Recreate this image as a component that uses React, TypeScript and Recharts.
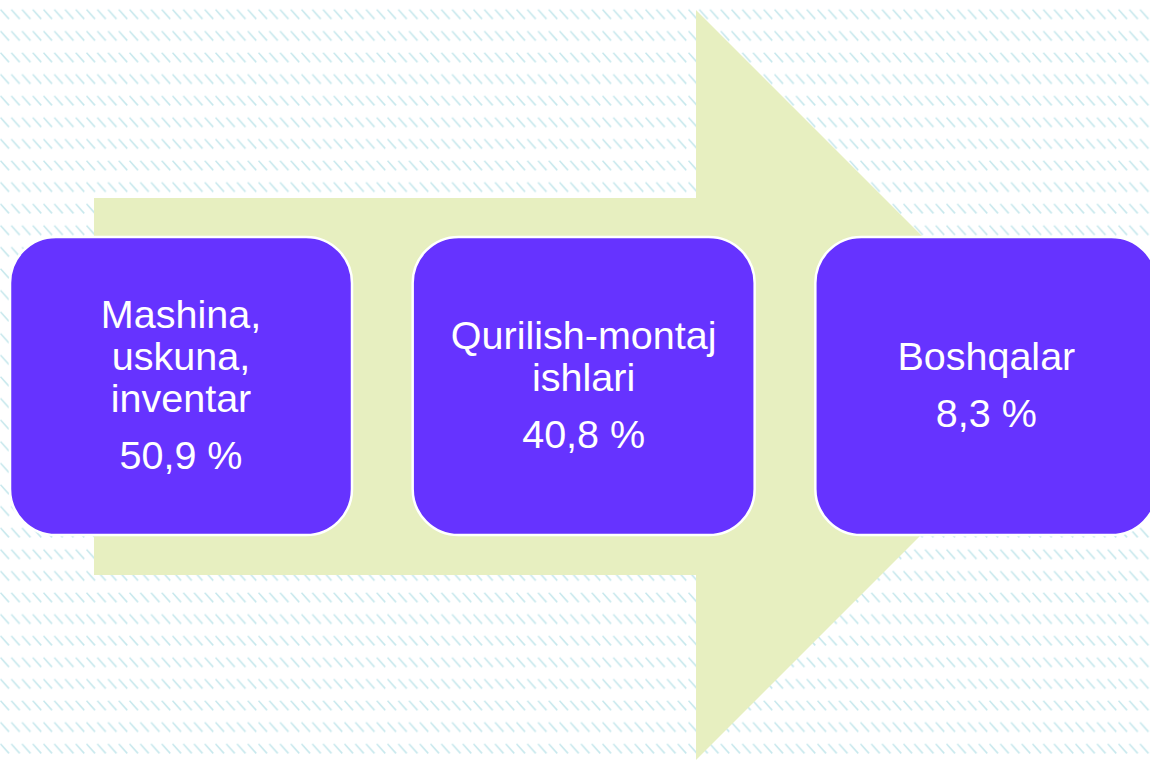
import React from "react";
import { BarChart, Bar, XAxis, YAxis } from "recharts";

// categories (line breaks as in the slide) and their shares, %
const CATEGORIES = [
  "Mashina,\nuskuna,\ninventar",
  "Qurilish-montaj\nishlari",
  "Boshqalar",
];
const SHARES = [50.9, 40.8, 8.3];

const data = CATEGORIES.map((name, i) => ({ name, share: SHARES[i] }));

const PURPLE = "#6633ff";
const ARROW = "#e7efc0";
const HATCH = "#9fd7e0";

const BOX_W = 342;
const BOX_H = 298;
const CENTER_Y = 386;
const LINE_H = 42;
const VALUE_GAP = 57;

function fmtShare(v: number) {
  return `${v.toFixed(1).replace(".", ",")} %`;
}

function BoxShape(props: any) {
  const { x, width, payload } = props;
  const cy = CENTER_Y;
  const top = cy - BOX_H / 2;
  const lines: string[] = String(payload.name).split("\n");
  const first = cy - (LINE_H / 2) * (lines.length - 1) - 16;
  const cx = x + width / 2;
  return (
    <g>
      <rect
        x={x}
        y={top}
        width={width}
        height={BOX_H}
        rx={46}
        ry={46}
        fill={PURPLE}
        stroke="#ffffff"
        strokeWidth={2.5}
      />
      <text
        textAnchor="middle"
        fill="#ffffff"
        fontFamily="'Liberation Sans', Arial, sans-serif"
        fontSize={39.5}
      >
        {lines.map((l, i) => (
          <tspan key={i} x={cx} y={first + i * LINE_H}>
            {l}
          </tspan>
        ))}
        <tspan x={cx} y={first + (lines.length - 1) * LINE_H + VALUE_GAP}>
          {fmtShare(payload.share)}
        </tspan>
      </text>
    </g>
  );
}

function Backdrop() {
  return (
    <svg
      width={1150}
      height={760}
      style={{ position: "absolute", left: 0, top: 0 }}
    >
      <defs>
        <pattern
          id="hatch"
          width={10.75}
          height={21.6}
          patternUnits="userSpaceOnUse"
          y={-1}
        >
          <line
            x1={0.5}
            y1={10.5}
            x2={9}
            y2={20}
            stroke={HATCH}
            strokeWidth={1.5}
            strokeOpacity={0.6}
          />
        </pattern>
      </defs>
      <rect width={1150} height={760} fill="#ffffff" />
      <rect width={1150} height={760} fill="url(#hatch)" />
      <polygon
        points="94,198 696,198 696,10 1071,385 696,760 696,575 94,575"
        fill={ARROW}
      />
    </svg>
  );
}

export default function App() {
  return (
    <div
      style={{
        position: "absolute",
        left: 0,
        top: 0,
        width: 1150,
        height: 760,
        overflow: "hidden",
      }}
    >
      <Backdrop />
      <div style={{ position: "absolute", left: -20, top: 0 }}>
        <BarChart
          width={1208}
          height={760}
          data={data}
          margin={{ top: 12, right: 0, bottom: 0, left: 0 }}
        >
          <XAxis dataKey="name" hide />
          <YAxis hide domain={[0, 100]} />
          <Bar
            dataKey="share"
            barSize={BOX_W}
            shape={<BoxShape />}
            isAnimationActive={false}
          />
        </BarChart>
      </div>
    </div>
  );
}
